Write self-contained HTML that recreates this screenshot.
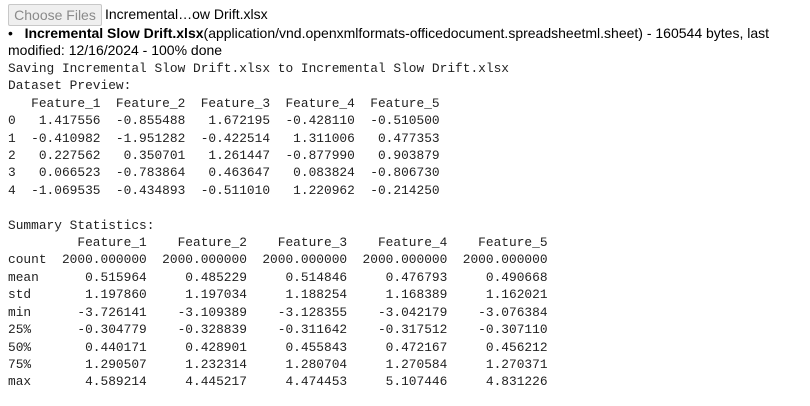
<!DOCTYPE html>
<html><head><meta charset="utf-8">
<style>
body{margin:0;width:810px;height:406px;background:#fff;overflow:hidden;font-family:"Liberation Sans",Arial,sans-serif;color:#000}
.btn{position:absolute;left:8px;top:4px;width:92px;height:20px;border:1px solid #c8c8c8;background:#efefef;color:#8a8a8a;font-size:14px;line-height:20px;text-align:center;border-radius:2px}
.fname{position:absolute;left:105px;top:5px;font-size:14px;line-height:18px}
.info{position:absolute;left:8px;top:25px;width:790px;font-size:14px;line-height:17px}
pre{position:absolute;left:8px;top:60px;margin:0;font-family:"Liberation Mono",monospace;font-size:12.85px;line-height:17.4px;color:#212121}
</style></head><body>
<div class="btn">Choose Files</div>
<div class="fname">Incremental…ow Drift.xlsx</div>
<div class="info">•&nbsp;&nbsp; <b>Incremental Slow Drift.xlsx</b>(application/vnd.openxmlformats-officedocument.spreadsheetml.sheet) - 160544 bytes, last modified: 12/16/2024 - 100% done</div>
<pre>Saving Incremental Slow Drift.xlsx to Incremental Slow Drift.xlsx
Dataset Preview:
   Feature_1  Feature_2  Feature_3  Feature_4  Feature_5
0   1.417556  -0.855488   1.672195  -0.428110  -0.510500
1  -0.410982  -1.951282  -0.422514   1.311006   0.477353
2   0.227562   0.350701   1.261447  -0.877990   0.903879
3   0.066523  -0.783864   0.463647   0.083824  -0.806730
4  -1.069535  -0.434893  -0.511010   1.220962  -0.214250

Summary Statistics:
         Feature_1    Feature_2    Feature_3    Feature_4    Feature_5
count  2000.000000  2000.000000  2000.000000  2000.000000  2000.000000
mean      0.515964     0.485229     0.514846     0.476793     0.490668
std       1.197860     1.197034     1.188254     1.168389     1.162021
min      -3.726141    -3.109389    -3.128355    -3.042179    -3.076384
25%      -0.304779    -0.328839    -0.311642    -0.317512    -0.307110
50%       0.440171     0.428901     0.455843     0.472167     0.456212
75%       1.290507     1.232314     1.280704     1.270584     1.270371
max       4.589214     4.445217     4.474453     5.107446     4.831226</pre>
</body></html>
